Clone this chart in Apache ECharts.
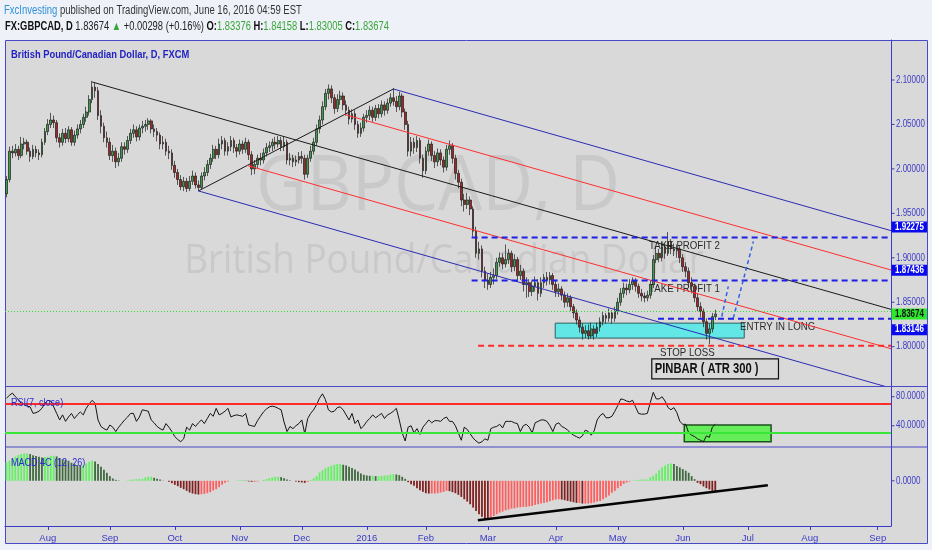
<!DOCTYPE html>
<html><head><meta charset="utf-8">
<script src="https://cdn.jsdelivr.net/npm/echarts@6.0.0/dist/echarts.min.js"></script>
<style>html,body{margin:0;padding:0;background:#eef2f8;}#c{width:932px;height:550px;}</style>
</head><body><div id="c"></div>
<script>
// ---------- categories ----------
const barCount = 300;                       // trading-day slots on the time axis (incl. empty future)
const noTradeDays = ['2015-12-25', '2016-01-01'];
const monthNames = ['Jan','Feb','Mar','Apr','May','Jun','Jul','Aug','Sep','Oct','Nov','Dec'];
const dates = [];
for (let t = Date.UTC(2015, 6, 14); dates.length < barCount; t += 86400000) {
  const d = new Date(t), wd = d.getUTCDay(), s = d.toISOString().slice(0, 10);
  if (wd !== 0 && wd !== 6 && noTradeDays.indexOf(s) < 0) dates.push(s);
}

// ---------- price data (GBPCAD daily) ----------
const firstOpen = 1.972;
const closes = [
 1.988,2.020,2.018,2.022,2.015,2.028,2.030,2.020,2.014,2.022,
 2.018,2.016,2.030,2.042,2.050,2.055,2.052,2.035,2.030,2.040,
 2.034,2.044,2.030,2.038,2.045,2.050,2.058,2.064,2.078,2.092,
 2.088,2.060,2.048,2.035,2.030,2.015,2.020,2.008,2.012,2.025,
 2.022,2.032,2.040,2.044,2.036,2.046,2.048,2.050,2.054,2.045,
 2.042,2.038,2.028,2.030,2.020,2.018,2.004,1.996,1.988,1.980,
 1.986,1.978,1.986,1.992,1.982,1.979,1.992,1.996,2.005,2.012,
 2.022,2.016,2.028,2.032,2.020,2.025,2.032,2.024,2.020,2.028,
 2.022,2.030,2.016,2.000,2.005,2.012,2.010,2.018,2.024,2.026,
 2.030,2.028,2.032,2.025,2.030,2.010,2.012,2.008,2.010,2.014,
 2.012,1.994,2.012,2.020,2.030,2.045,2.055,2.070,2.085,2.090,
 2.080,2.068,2.078,2.082,2.072,2.066,2.056,2.062,2.050,2.040,
 2.046,2.058,2.060,2.066,2.058,2.068,2.062,2.072,2.066,2.074,
 2.080,2.076,2.070,2.082,2.064,2.050,2.020,2.030,2.024,2.032,
 2.012,1.998,2.020,2.028,2.015,2.008,2.018,2.010,2.002,2.022,
 2.026,2.012,1.995,1.985,1.965,1.960,1.965,1.955,1.930,1.905,
 1.910,1.885,1.875,1.870,1.878,1.880,1.895,1.900,1.893,1.898,
 1.905,1.890,1.898,1.880,1.885,1.870,1.872,1.862,1.868,1.872,
 1.860,1.872,1.878,1.875,1.880,1.870,1.862,1.865,1.858,1.850,
 1.855,1.845,1.838,1.830,1.822,1.815,1.818,1.812,1.820,1.815,
 1.822,1.828,1.835,1.832,1.838,1.832,1.840,1.850,1.860,1.866,
 1.864,1.870,1.874,1.868,1.860,1.857,1.855,1.858,1.870,1.898,
 1.905,1.900,1.912,1.905,1.918,1.910,1.908,1.910,1.900,1.890,
 1.885,1.872,1.868,1.855,1.845,1.840,1.828,1.815,1.820,1.8338,
 1.83674];
const highs = [
 1.992,2.025,2.026,2.028,2.026,2.036,2.035,2.033,2.024,2.027,
 2.026,2.022,2.034,2.046,2.056,2.063,2.060,2.055,2.040,2.045,
 2.046,2.048,2.047,2.043,2.050,2.055,2.062,2.070,2.083,2.099,
 2.097,2.092,2.066,2.052,2.042,2.035,2.027,2.024,2.018,2.030,
 2.030,2.037,2.045,2.050,2.048,2.050,2.054,2.055,2.057,2.056,
 2.050,2.046,2.041,2.037,2.034,2.026,2.022,2.009,2.000,1.993,
 1.991,1.990,1.992,1.998,1.996,1.987,1.996,2.002,2.010,2.017,
 2.027,2.026,2.034,2.037,2.035,2.030,2.037,2.035,2.028,2.033,
 2.032,2.035,2.033,2.020,2.010,2.016,2.018,2.023,2.029,2.031,
 2.034,2.036,2.037,2.036,2.037,2.033,2.018,2.016,2.015,2.019,
 2.020,2.016,2.016,2.026,2.035,2.050,2.060,2.076,2.090,2.095,
 2.094,2.084,2.084,2.088,2.086,2.077,2.070,2.067,2.066,2.054,
 2.052,2.062,2.066,2.071,2.070,2.072,2.073,2.077,2.076,2.079,
 2.085,2.091,2.082,2.087,2.085,2.068,2.054,2.036,2.035,2.037,
 2.035,2.016,2.025,2.033,2.031,2.020,2.023,2.022,2.014,2.027,
 2.032,2.029,2.016,1.999,1.989,1.972,1.973,1.969,1.958,1.935,
 1.918,1.914,1.890,1.882,1.884,1.888,1.900,1.906,1.905,1.915,
 1.910,1.908,1.904,1.901,1.892,1.888,1.878,1.876,1.874,1.879,
 1.876,1.878,1.882,1.884,1.884,1.883,1.874,1.871,1.868,1.862,
 1.860,1.858,1.848,1.842,1.834,1.826,1.824,1.825,1.827,1.824,
 1.827,1.833,1.840,1.838,1.843,1.841,1.845,1.855,1.866,1.872,
 1.871,1.876,1.878,1.877,1.871,1.865,1.861,1.863,1.875,1.903,
 1.912,1.910,1.918,1.916,1.929,1.921,1.916,1.915,1.913,1.904,
 1.895,1.889,1.878,1.871,1.860,1.850,1.843,1.832,1.826,1.838,
 1.84158];
const lows = [
 1.968,1.985,2.012,2.014,2.010,2.012,2.022,2.016,2.008,2.011,
 2.013,2.010,2.013,2.027,2.038,2.046,2.046,2.030,2.024,2.026,
 2.029,2.030,2.026,2.026,2.034,2.040,2.046,2.053,2.060,2.074,
 2.080,2.055,2.040,2.030,2.024,2.010,2.008,2.001,2.003,2.008,
 2.016,2.018,2.028,2.035,2.031,2.032,2.040,2.042,2.044,2.040,
 2.036,2.031,2.022,2.022,2.015,2.011,1.999,1.990,1.982,1.976,
 1.975,1.974,1.975,1.982,1.978,1.975,1.977,1.987,1.992,2.000,
 2.008,2.011,2.012,2.022,2.015,2.015,2.020,2.018,2.013,2.016,
 2.017,2.018,2.010,1.993,1.994,2.000,2.004,2.006,2.014,2.019,
 2.020,2.022,2.024,2.020,2.020,2.005,2.004,2.002,2.003,2.006,
 2.006,1.988,1.990,2.008,2.016,2.026,2.040,2.050,2.066,2.078,
 2.074,2.062,2.064,2.072,2.066,2.060,2.050,2.052,2.044,2.035,
 2.036,2.042,2.052,2.055,2.053,2.054,2.057,2.058,2.060,2.062,
 2.070,2.071,2.064,2.066,2.058,2.044,2.014,2.014,2.017,2.019,
 2.006,1.990,1.994,2.015,2.009,2.001,2.003,2.004,1.996,1.998,
 2.016,2.006,1.988,1.978,1.958,1.952,1.955,1.948,1.924,1.900,
 1.898,1.878,1.866,1.864,1.866,1.870,1.876,1.890,1.887,1.889,
 1.893,1.884,1.885,1.874,1.875,1.862,1.855,1.856,1.857,1.862,
 1.852,1.856,1.866,1.869,1.870,1.864,1.856,1.856,1.852,1.844,
 1.845,1.840,1.832,1.825,1.816,1.808,1.810,1.808,1.809,1.808,
 1.811,1.817,1.824,1.826,1.828,1.826,1.828,1.836,1.846,1.855,
 1.858,1.860,1.864,1.862,1.855,1.851,1.850,1.851,1.854,1.866,
 1.894,1.895,1.896,1.899,1.902,1.904,1.902,1.900,1.894,1.884,
 1.878,1.867,1.860,1.850,1.840,1.833,1.822,1.808,1.803,1.816,
 1.83005];

// ---------- RSI(7) values ----------
const rsi = [
 78,82,85,80,76,71,69,67,66,57, 58,60,64,71,75,74,66,57,48,55,
 46,52,57,50,55,59,55,64,70,75, 71,48,39,36,34,41,38,32,38,43,
 48,52,57,57,46,52,62,61,60,48, 44,39,36,34,43,38,32,25,21,18,
 22,38,34,43,39,44,48,43,50,57, 53,64,55,57,60,64,52,54,55,54,
 53,57,41,40,39,47,53,59,63,66, 67,66,64,62,45,32,39,36,40,43,
 48,29,50,57,62,69,78,84,76,62, 59,60,65,66,62,55,48,57,43,48,
 36,40,46,50,55,51,54,57,50,55, 57,60,64,48,30,19,38,40,30,36,
 28,38,43,48,44,47,47,46,50,52, 46,46,40,30,20,38,35,29,23,19,
 16,18,22,20,36,38,39,42,37,46, 46,46,44,43,32,40,42,38,30,44,
 46,48,48,46,40,32,42,44,39,37, 34,30,27,25,23,26,34,32,27,33,
 48,54,57,51,51,53,60,68,77,76, 74,73,75,66,57,56,56,57,72,86,
 77,77,80,74,65,62,65,58,46,42, 42,30,27,25,22,20,18,26,24,38,
 42];
const rsiLevels = [70, 30];
const rsiTicks = [40, 80];

// ---------- MACD 4C (12,26) histogram, in 1e-4 units ----------
const macd = [
 55,60,65,72,77,80,82,82,80,76, 74,72,70,71,72,74,75,73,68,64,
 62,60,54,50,47,45,47,52,57,60, 58,50,42,33,24,14,7,3,1,0,
 0,1,3,4,5,5,6,10,12,12, 9,6,4,1,0,-3,-7,-12,-16,-21,
 -25,-30,-35,-38,-40,-41,-40,-39,-37,-34, -29,-25,-19,-12,-6,-2,0,0,1,2,
 3,1,-2,-3,-3,-2,0,3,5,8, 10,12,12,11,8,4,2,0,-2,-4,
 -5,-6,-3,2,8,14,25,32,38,42, 45,48,50,50,48,46,42,38,34,28,
 22,18,16,15,15,14,14,15,16,16, 18,20,19,17,12,6,-4,-10,-15,-22,
 -28,-33,-37,-38,-38,-38,-37,-35,-33,-30, -31,-34,-37,-42,-48,-55,-62,-70,-80,-90,
 -100,-107,-113,-115,-110,-105,-100,-95,-92,-88, -86,-83,-82,-80,-79,-78,-78,-76,-75,-72,
 -70,-68,-66,-64,-61,-58,-56,-55,-56,-58, -60,-62,-64,-66,-66,-68,-68,-68,-67,-65,
 -62,-60,-55,-50,-44,-36,-30,-22,-16,-9, -5,-2,1,2,3,4,4,4,10,15,
 22,32,40,46,50,52,50,44,40,35, 30,24,14,5,-6,-10,-17,-22,-26,-30,
 -34];

// ---------- axis ticks ----------
const priceTicks = [1.80, 1.85, 1.90, 1.95, 2.00, 2.05, 2.10];
const macdTicks = [0];

// ---------- drawings (bar index, value) ----------
const pfA = [29, 2.0978], pfB = [65, 1.9752], pfC = [131, 2.0899];
const levels = [
  {price: 1.92275, from: 157.5, color: '#1f1fe6'},
  {price: 1.87436, from: 157.5, color: '#1f1fe6'},
  {price: 1.83146, from: 220.6, color: '#1f1fe6'},
  {price: 1.8012,  from: 159.7, color: '#ff2a2a'}
];
const lastPrice = 1.83674;
const arrows = [[[242.2, 1.8339], [244.4, 1.8677]], [[246.1, 1.8321], [252.9, 1.9183]]];
const entryZone = [[185.8, 1.8265], [249.8, 1.8097]];
const pinbarBox = [[218.5, 1.7864], [261.4, 1.7639]];
const pinbarText = {text: 'PINBAR ( ATR 300 )', at: [219.5, 1.7752]};
const rsiZone = [[229.5, 41], [258.9, 18]];
const macdTrend = [[159.6, -118], [257.8, -13]];
const notes = [
  {text: 'TAKE PROFIT 2', at: [217.6, 1.9138]},
  {text: 'TAKE PROFIT 1', at: [217.6, 1.8651]},
  {text: 'ENTRY IN LONG', at: [248.4, 1.8224]},
  {text: 'STOP LOSS', at: [221.3, 1.7931]}
];
const axisBoxes = [
  {price: 1.92275, bg: '#0a0aee', fg: '#ffffff', dy: -10.5},
  {price: 1.87436, bg: '#0a0aee', fg: '#ffffff', dy: -10.3},
  {price: 1.83674, bg: '#2ee82e', fg: '#111111', dy: 0},
  {price: 1.83146, bg: '#0a0aee', fg: '#ffffff', dy: 11}
];

// ---------- build ----------
const NF = '"Liberation Sans", Arial, sans-serif';
const AX = '#3a3ac8';
const X0 = -0.5, X1 = barCount - 0.5;
const candles = closes.map((c, i) => [i === 0 ? firstOpen : closes[i - 1], c, lows[i], highs[i]]);
const isMonthStart = (i) => i > 0 && dates[i].slice(5, 7) !== dates[i - 1].slice(5, 7);

const pfM = [(pfB[0] + pfC[0]) / 2, (pfB[1] + pfC[1]) / 2];
const slope = (pfM[1] - pfA[1]) / (pfM[0] - pfA[0]);
const ray = (p) => [p, [X1, p[1] + slope * (X1 - p[0])]];
const mid = (p, q) => [(p[0] + q[0]) / 2, (p[1] + q[1]) / 2];

const seg = (pts, color, width, type, z, xi, yi) => ({
  type: 'line', xAxisIndex: xi === undefined ? 3 : xi, yAxisIndex: yi === undefined ? 0 : yi,
  data: pts, symbol: 'none', silent: true, z: z, animation: false,
  lineStyle: {color: color, width: width, type: type}
});

const catAxis = (g, show) => ({
  type: 'category', gridIndex: g, data: dates, boundaryGap: true,
  axisLine: {show: show, onZero: false, lineStyle: {color: AX}},
  axisTick: {show: show, interval: (i) => isMonthStart(i), alignWithLabel: true, length: 4, lineStyle: {color: AX}},
  axisLabel: {show: show, interval: (i) => isMonthStart(i),
    formatter: (v) => { const m = +v.slice(5, 7); return m === 1 ? v.slice(0, 4) : monthNames[m - 1]; },
    color: AX, fontFamily: NF, fontSize: 9.5, margin: 7},
  splitLine: {show: false}
});
const valAxis = (g) => ({type: 'value', gridIndex: g, min: X0, max: X1, show: false,
  axisLine: {show: false, onZero: false}, axisTick: {show: false}, axisLabel: {show: false}, splitLine: {show: false}});
const yAx = (g, min, max) => ({
  type: 'value', gridIndex: g, position: 'right', min: min, max: max, scale: true,
  splitLine: {show: false},
  axisLine: {show: true, onZero: false, lineStyle: {color: AX}},
  axisTick: {show: false},
  axisLabel: {show: false}
});

const series = [];
// pitchfork
series.push(seg(ray(pfA), '#1a1a1a', 1, 'solid', 4));
series.push(seg([pfB, pfC], '#1a1a1a', 1, 'solid', 4));
series.push(seg(ray(pfC), '#2b2bb4', 1, 'solid', 4));
series.push(seg(ray(pfB), '#2b2bb4', 1, 'solid', 4));
series.push(seg(ray(mid(pfM, pfC)), '#ff2e2e', 1, 'solid', 4));
series.push(seg(ray(mid(pfM, pfB)), '#ff2e2e', 1, 'solid', 4));
// horizontal levels
levels.forEach(l => series.push(seg([[l.from, l.price], [X1, l.price]], l.color, 2, [6, 4], 4)));
// arrows
series.push({type: 'line', xAxisIndex: 3, yAxisIndex: 0, data: [], silent: true, z: 4, animation: false,
  markLine: {silent: true, animation: false, symbol: ['none', 'arrow'], symbolSize: [0, 7],
    label: {show: false}, lineStyle: {color: '#2f62e8', width: 1.5, type: [4, 3]},
    data: arrows.map(a => [{coord: a[0]}, {coord: a[1]}])}});
// entry zone (cyan)
series.push({type: 'line', xAxisIndex: 3, yAxisIndex: 0, data: [], silent: true, z: 1, animation: false,
  markArea: {silent: true, animation: false, itemStyle: {color: '#62e6e6', borderColor: '#2c5f5f', borderWidth: 1},
    data: [[{coord: entryZone[0]}, {coord: entryZone[1]}]]}});
// pinbar box
series.push({type: 'line', xAxisIndex: 3, yAxisIndex: 0, data: [], silent: true, z: 5, animation: false,
  markArea: {silent: true, animation: false, itemStyle: {color: 'rgba(0,0,0,0)', borderColor: '#111', borderWidth: 1.2},
    data: [[{coord: pinbarBox[0]}, {coord: pinbarBox[1]}]]}});
// candles
series.push({type: 'candlestick', xAxisIndex: 0, yAxisIndex: 0, data: candles, barWidth: 2.2, z: 3, silent: true, animation: false,
  itemStyle: {color: '#3d9b4a', color0: '#a52424', borderColor: '#1c1c1c', borderColor0: '#1c1c1c', borderWidth: 0.7},
  markLine: {silent: true, animation: false, symbol: 'none', label: {show: false},
    lineStyle: {color: '#2fe02f', type: [1, 2], width: 1}, data: [{yAxis: lastPrice}]}});
// RSI
series.push({type: 'line', xAxisIndex: 1, yAxisIndex: 1, data: rsi, symbol: 'none', silent: true, z: 3, animation: false,
  lineStyle: {color: '#141414', width: 1},
  markLine: {silent: true, animation: false, symbol: 'none', label: {show: false},
    data: [{yAxis: rsiLevels[0], lineStyle: {color: '#ff2a2a', width: 2, type: 'solid'}},
           {yAxis: rsiLevels[1], lineStyle: {color: '#3ae63a', width: 2, type: 'solid'}}]}});
series.push({type: 'line', xAxisIndex: 4, yAxisIndex: 1, data: [], silent: true, z: 2, animation: false,
  markArea: {silent: true, animation: false, itemStyle: {color: '#66ee5a', borderColor: '#1f4f1f', borderWidth: 1.5},
    data: [[{coord: rsiZone[0]}, {coord: rsiZone[1]}]]}});
// MACD
series.push({type: 'bar', xAxisIndex: 2, yAxisIndex: 2, barWidth: 1.8, silent: true, z: 2, animation: false,
  data: macd.map((v, i) => {
    const p = i === 0 ? v : macd[i - 1];
    const c = v >= 0 ? (v >= p ? '#63f063' : '#3f6a3f') : (v < p ? '#802020' : '#ff5e5e');
    return {value: v, itemStyle: {color: c}};
  })});
series.push(seg(macdTrend, '#050505', 2.5, 'solid', 5, 5, 2));

const chart = echarts.init(document.getElementById('c'), null, {width: 932, height: 550});
chart.setOption({
  animation: false,
  backgroundColor: '#eef2f8',
  grid: [
    {left: 5, top: 40, width: 886, height: 346},
    {left: 5, top: 387, width: 886, height: 60},
    {left: 5, top: 447, width: 886, height: 79}
  ],
  xAxis: [catAxis(0, false), catAxis(1, false), catAxis(2, true), valAxis(0), valAxis(1), valAxis(2)],
  yAxis: [yAx(0, 1.7558, 2.145), yAx(1, 10.7, 93.4), yAx(2, -135, 101)],
  series: series
});

// ---------- overlay graphics (texts placed through the chart's own scales) ----------
const g = [];
const txt = (x, y, text, font, fill, sx, z, align) => ({type: 'text', z: z, silent: true, x: x, y: y, scaleX: sx,
  style: {text: text, font: font, fill: fill, align: align || 'left', verticalAlign: 'middle'}});
g.push({type: 'rect', z: -10, silent: true, shape: {x: 5.5, y: 40.5, width: 922, height: 503},
  style: {fill: '#d9d9d9', stroke: '#4848c8', lineWidth: 1}});
[386.5, 447].forEach(y => g.push({type: 'line', z: 10, silent: true, shape: {x1: 5, y1: y, x2: 927.5, y2: y},
  style: {stroke: '#4848c8', lineWidth: 1.2}}));
g.push({type: 'text', z: -5, silent: true, x: 438, y: 188, scaleX: 0.92,
  style: {text: 'GBPCAD, D', font: '76px "Open Sans", sans-serif', fill: '#c9c9c9', align: 'center', verticalAlign: 'middle'}});
g.push({type: 'text', z: -5, silent: true, x: 444, y: 262, scaleX: 0.92,
  style: {text: 'British Pound/Canadian Dollar', font: '40px "Open Sans", sans-serif', fill: '#c9c9c9', align: 'center', verticalAlign: 'middle'}});
g.push({type: 'text', z: 20, silent: true, x: 4, y: 11, scaleX: 0.76,
  style: {text: '{a|FxcInvesting} {b|published on TradingView.com, June 16, 2016 04:59 EST}', verticalAlign: 'middle',
    font: '12.5px ' + NF, rich: {a: {fill: '#2f8fd8', fontFamily: NF, fontSize: 12.5}, b: {fill: '#333333', fontFamily: NF, fontSize: 12.5}}}});
g.push({type: 'text', z: 20, silent: true, x: 5, y: 27, scaleX: 0.75,
  style: {text: '{k|FX:GBPCAD, D} {n|1.83674} {g|▲} {n|+0.00298 (+0.16%)} {k|O:}{g|1.83376} {k|H:}{g|1.84158} {k|L:}{g|1.83005} {k|C:}{g|1.83674}',
    verticalAlign: 'middle', font: '12.5px ' + NF,
    rich: {k: {fill: '#111', fontFamily: NF, fontSize: 12.5, fontWeight: 'bold'},
           n: {fill: '#222', fontFamily: NF, fontSize: 12.5},
           g: {fill: '#3aa63a', fontFamily: NF, fontSize: 12.5}}}});
g.push(txt(11, 55, 'British Pound/Canadian Dollar, D, FXCM', 'bold 11px ' + NF, '#2222c4', 0.85, 20));
g.push(txt(11, 403, 'RSI(7, close)', '11px ' + NF, '#2a2ad0', 0.82, 20));
g.push(txt(11, 463, 'MACD 4C (12, 26)', '11px ' + NF, '#2a2ad0', 0.82, 20));
// right axis ticks and tick labels
const tickLabel = (axis, v, s) => {
  const q = {}; q['yAxisIndex'] = axis;
  const y = chart.convertToPixel(q, v);
  g.push({type: 'line', z: 20, silent: true, shape: {x1: 891, y1: y, x2: 894.5, y2: y}, style: {stroke: AX, lineWidth: 1}});
  g.push(txt(896, y, s, '10px ' + NF, AX, 0.8, 20));
};
priceTicks.forEach(v => tickLabel(0, v, v.toFixed(5)));
rsiTicks.forEach(v => tickLabel(1, v, v.toFixed(4)));
macdTicks.forEach(v => tickLabel(2, v, (v / 10000).toFixed(4)));
// price boxes on the axis
axisBoxes.forEach(b => {
  const y = chart.convertToPixel({yAxisIndex: 0}, b.price) + b.dy;
  g.push({type: 'rect', z: 30, silent: true, shape: {x: 891.5, y: y - 5.5, width: 35.5, height: 11}, style: {fill: b.bg}});
  g.push(txt(909.5, y, b.price.toFixed(5), 'bold 10px ' + NF, b.fg, 0.8, 31, 'center'));
});
// chart notes
notes.forEach(n => {
  const p = chart.convertToPixel({xAxisIndex: 3, yAxisIndex: 0}, n.at);
  g.push(txt(p[0], p[1], n.text, '11px ' + NF, '#2a2a2a', 0.88, 2));
});
const pp = chart.convertToPixel({xAxisIndex: 3, yAxisIndex: 0}, pinbarText.at);
g.push(txt(pp[0], pp[1], pinbarText.text, 'bold 14px ' + NF, '#111', 0.8, 10));
chart.setOption({graphic: {elements: g}});
</script></body></html>
